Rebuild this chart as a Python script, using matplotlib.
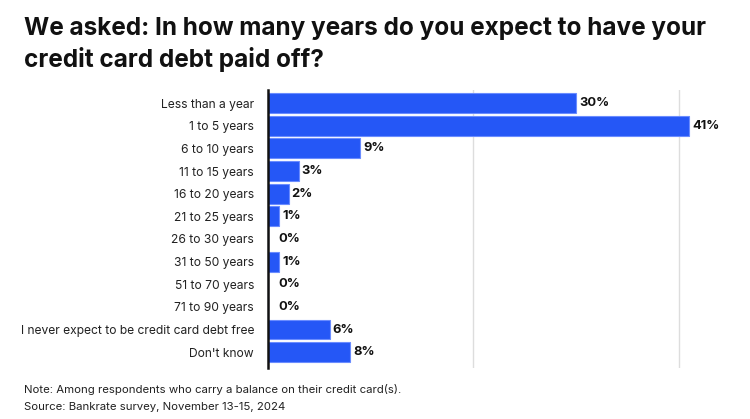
import matplotlib
matplotlib.use("Agg")
import matplotlib.pyplot as plt

categories = ["Less than a year", "1 to 5 years", "6 to 10 years", "11 to 15 years",
              "16 to 20 years", "21 to 25 years", "26 to 30 years", "31 to 50 years",
              "51 to 70 years", "71 to 90 years", "I never expect to be credit card debt free",
              "Don't know"]
values = [30, 41, 9, 3, 2, 1.1, 0, 1.1, 0, 0, 6, 8]
labels = ["30%", "41%", "9%", "3%", "2%", "1%", "0%", "1%", "0%", "0%", "6%", "8%"]
gridticks = [20, 40]

title_lines = ["We asked: In how many years do you expect to have your",
               "credit card debt paid off?"]
note = "Note: Among respondents who carry a balance on their credit card(s)."
source = "Source: Bankrate survey, November 13-15, 2024"

plt.rcParams['font.family'] = ['Inter', 'DejaVu Sans']

fig = plt.figure(figsize=(7.5, 4.19), dpi=100)
ax = fig.add_axes([268/750, 1-368/419, 462/750, (368-90)/419])

y = list(range(len(categories)))
ax.barh(y, values, height=0.88, color='#2557f6', edgecolor='#6a8cff', linewidth=0.8, zorder=3)
for yi, v, lab in zip(y, values, labels):
    off = 3 if v > 0 else 10
    ax.annotate(lab, (v, yi), xytext=(off, 0), textcoords='offset pixels',
                va='center', ha='left', fontsize=9.3, fontweight='bold', color='#111111')

ax.set_xlim(0, 45)
ax.set_ylim(len(categories) - 1 + 0.7, -0.58)
ax.set_yticks(y)
ax.set_yticklabels(categories, fontsize=8.7, color='#222222')
ax.tick_params(axis='y', length=0, pad=10)
ax.set_xticks(gridticks)
ax.tick_params(axis='x', length=0, labelbottom=False)
ax.xaxis.grid(True, color='#dddddd', linewidth=1, zorder=0)
for s in ['top', 'right', 'bottom']:
    ax.spines[s].set_visible(False)
ax.spines['left'].set_linewidth(1.8)
ax.spines['left'].set_color('#111111')
ax.spines['left'].set_zorder(4)

fig.text(24/750, 1-35/419, title_lines[0], fontsize=17.5, fontweight='bold', va='baseline',
         ha='left', color='#111111')
fig.text(24/750, 1-67/419, title_lines[1], fontsize=17.5, fontweight='bold', va='baseline',
         ha='left', color='#111111')
fig.text(24/750, 1-389/419, note, fontsize=8.2, va='center', ha='left', color='#222222')
fig.text(24/750, 1-407/419, source, fontsize=8.2, va='center', ha='left', color='#222222')

fig.savefig("out.png", dpi=100, facecolor='white')
